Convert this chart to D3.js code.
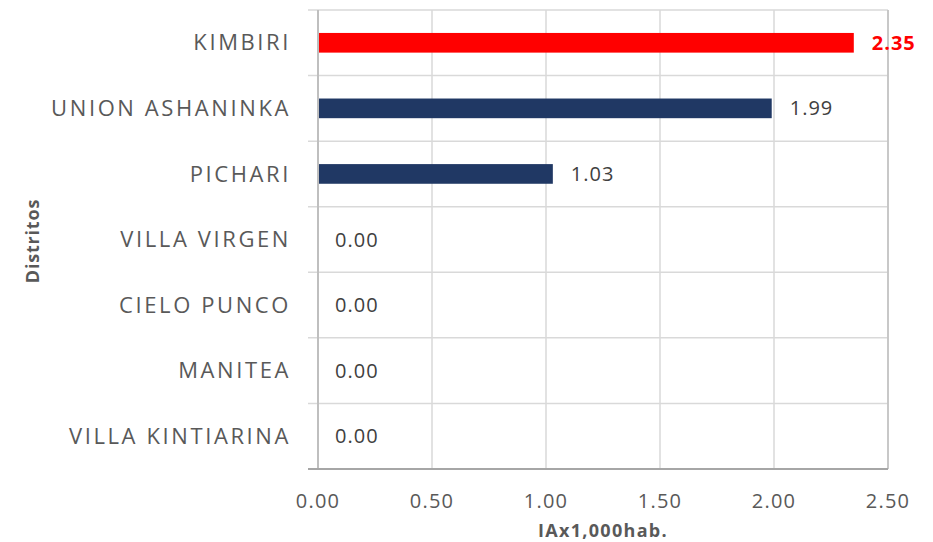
<!DOCTYPE html>
<html><head><meta charset="utf-8">
<script src="https://cdn.jsdelivr.net/npm/d3@7"></script>
<style>body{margin:0;background:#fff}</style>
</head><body>
<svg id="c" width="933" height="542"></svg>
<script>
const categories = ["KIMBIRI","UNION ASHANINKA","PICHARI","VILLA VIRGEN","CIELO PUNCO","MANITEA","VILLA KINTIARINA"];
const values = [2.35,1.99,1.03,0.00,0.00,0.00,0.00];
const highlight = ["KIMBIRI"];
const xTicks = [0,0.5,1,1.5,2,2.5];

const svg = d3.select("#c");
const m = {l:318, r:888, t:10, b:469};
const x = d3.scaleLinear().domain([0,2.5]).range([m.l,m.r]);
const y = d3.scaleBand().domain(categories).range([m.t,m.b]).paddingInner(0.7).paddingOuter(0.35);
const font = "'Open Sans', sans-serif";

// vertical grid
svg.append("g").selectAll("line").data(xTicks.slice(1)).join("line")
  .attr("x1",d=>x(d)).attr("x2",d=>x(d)).attr("y1",m.t).attr("y2",m.b)
  .attr("stroke","#d9d9d9").attr("stroke-width",1.5);
// horizontal grid at band boundaries
const bounds = d3.range(categories.length+1).map(i=>m.t+i*(m.b-m.t)/categories.length);
svg.append("g").selectAll("line").data(bounds.slice(0,-1)).join("line")
  .attr("x1",m.l-10).attr("x2",m.r).attr("y1",d=>d).attr("y2",d=>d)
  .attr("stroke","#d9d9d9").attr("stroke-width",1.5);
// right border
svg.append("line").attr("x1",m.r).attr("x2",m.r).attr("y1",m.t).attr("y2",m.b)
  .attr("stroke","#bfbfbf").attr("stroke-width",1.5);
// left axis
svg.append("line").attr("x1",m.l).attr("x2",m.l).attr("y1",m.t).attr("y2",m.b)
  .attr("stroke","#bfbfbf").attr("stroke-width",2);
// bottom axis
svg.append("line").attr("x1",m.l-10).attr("x2",m.r).attr("y1",m.b).attr("y2",m.b)
  .attr("stroke","#a6a6a6").attr("stroke-width",2);

// bars
svg.append("g").selectAll("rect").data(categories).join("rect")
  .attr("x",x(0)+1).attr("y",d=>y(d))
  .attr("width",(d,i)=>Math.max(0,x(values[i])-x(0)-1)).attr("height",y.bandwidth())
  .attr("fill",d=>highlight.includes(d)?"#ff0000":"#203864");

// value labels
svg.append("g").selectAll("text").data(categories).join("text")
  .attr("x",(d,i)=>x(values[i])+(values[i]>0?18:17)).attr("y",d=>y(d)+y.bandwidth()/2)
  .attr("dy","0.35em")
  .attr("font-family",font).attr("font-size",20).attr("letter-spacing",1)
  .attr("font-weight",d=>highlight.includes(d)?"bold":"normal")
  .attr("fill",d=>highlight.includes(d)?"#ff0000":"#404040")
  .text((d,i)=>d3.format(".2f")(values[i]));

// category labels
svg.append("g").selectAll("text").data(categories).join("text")
  .attr("x",291).attr("y",d=>y(d)+y.bandwidth()/2).attr("dy","0.35em")
  .attr("text-anchor","end").attr("font-family",font).attr("font-size",22)
  .attr("letter-spacing",2.6)
  .attr("fill","#595959").text(d=>d);

// x tick labels
svg.append("g").selectAll("text").data(xTicks).join("text")
  .attr("x",d=>x(d)).attr("y",501).attr("dy","0.35em").attr("text-anchor","middle")
  .attr("font-family",font).attr("font-size",20).attr("letter-spacing",1.2).attr("fill","#595959")
  .text(d=>d3.format(".2f")(d));

// axis titles
svg.append("text").attr("x",(m.l+m.r)/2).attr("y",531).attr("dy","0.35em")
  .attr("text-anchor","middle").attr("font-family",font).attr("font-size",18)
  .attr("letter-spacing",1.3)
  .attr("font-weight","bold").attr("fill","#595959").text("IAx1,000hab.");
svg.append("text").attr("transform","translate(33,241) rotate(-90)").attr("dy","0.35em")
  .attr("text-anchor","middle").attr("font-family",font).attr("font-size",18)
  .attr("letter-spacing",0.8)
  .attr("font-weight","bold").attr("fill","#595959").text("Distritos");
</script>
</body></html>
